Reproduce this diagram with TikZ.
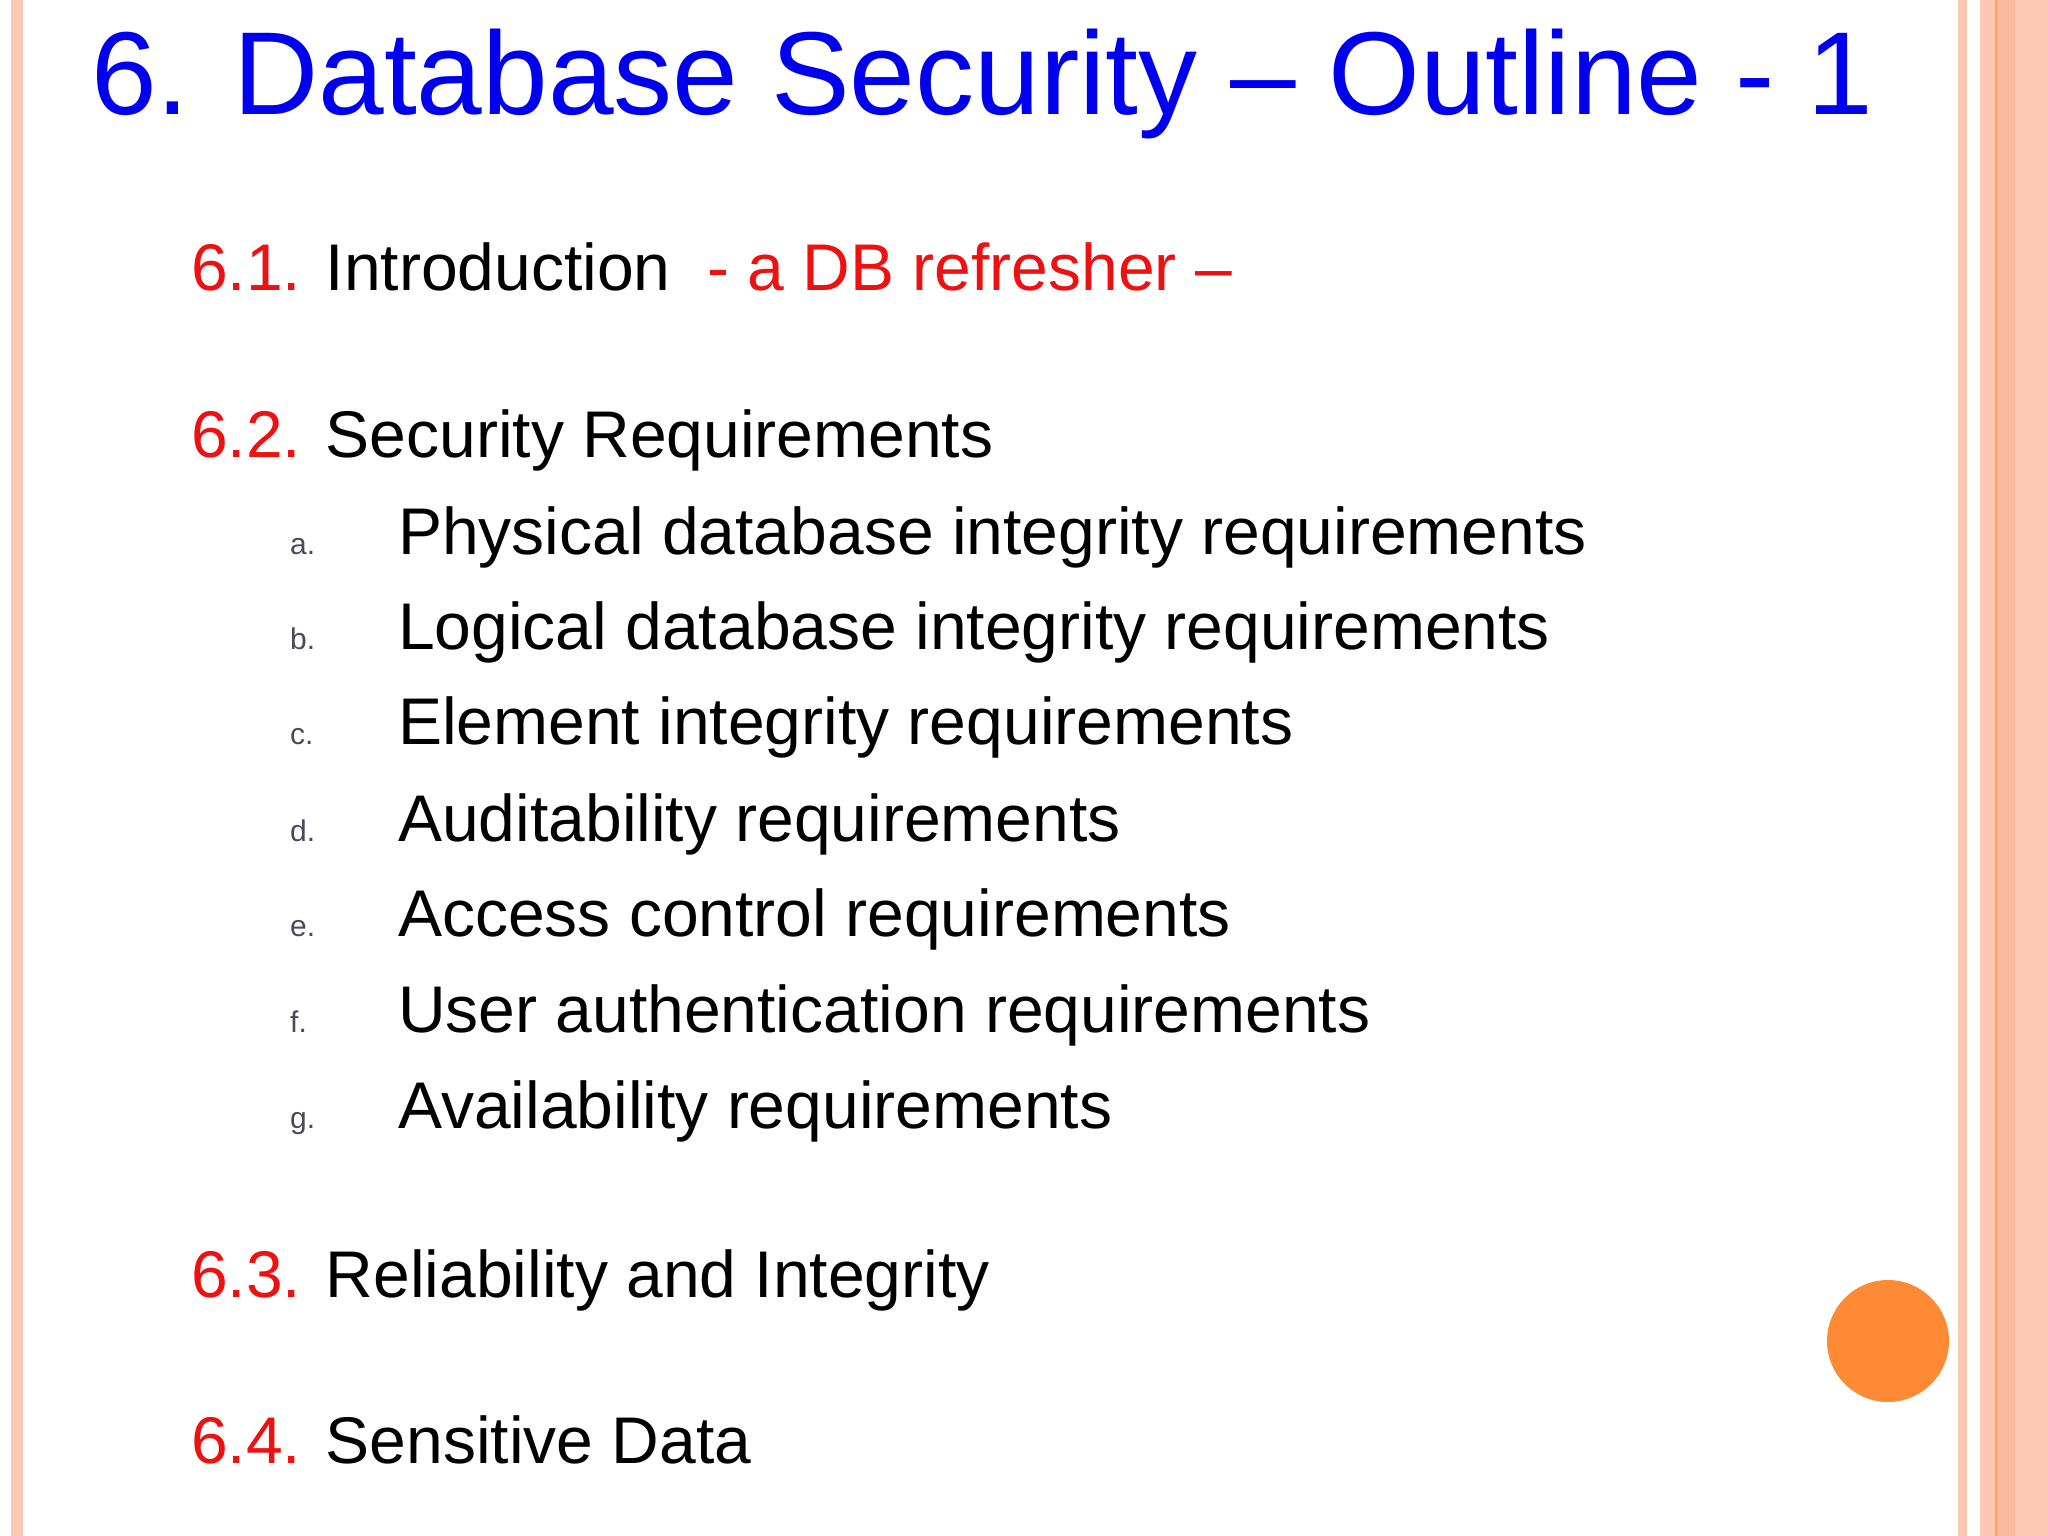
\documentclass[tikz,border=0pt]{standalone}
\usepackage{fontspec}
\setmainfont{Liberation Sans}
\definecolor{salmon}{HTML}{FCC8B4}
\definecolor{salmond}{HTML}{F9B99F}
\definecolor{orng}{HTML}{FF8A36}
\definecolor{ttl}{HTML}{0000EE}
\definecolor{rd}{HTML}{EE1111}
\definecolor{gr}{HTML}{4A4A5A}
\begin{document}
\begin{tikzpicture}[x=1pt,y=-1pt,
  main/.style={anchor=base west,inner sep=0,font=\fontsize{66}{70}\selectfont},
  lbl/.style={anchor=base west,inner sep=0,text=gr,font=\fontsize{30}{34}\selectfont}]
\fill[white] (0,0) rectangle (2048,1536);
\useasboundingbox (0,0) rectangle (2048,1536);
\fill[salmon] (11,0) rectangle (23,1536);
\fill[salmon] (1958,0) rectangle (1967,1536);
\fill[salmon] (1980,0) rectangle (2048,1536);
\fill[salmond] (1996,0) rectangle (2015,1536);
\fill[orng!80] (1995,0) rectangle (1997,1536);
\fill[orng] (1888,1341) circle (61);
\node[anchor=base west,inner sep=0,text=ttl,font=\fontsize{118}{120}\selectfont] (t) at (91,115) {6. Database Security -- Outline - 1};
\node[main] (s1) at (191,290) {\textcolor{rd}{6.1.} Introduction \ \textcolor{rd}{- a DB refresher --}};
\node[main] (s2) at (191,457) {\textcolor{rd}{6.2.} Security Requirements};
\foreach \l/\t/\y in {a/Physical database integrity requirements/554,b/Logical database integrity requirements/649,c/Element integrity requirements/744,d/Auditability requirements/841,e/Access control requirements/936,f/User authentication requirements/1032,g/Availability requirements/1128}{
  \node[lbl] (l\l) at (290,\y) {\l.};
  \node[main] (i\l) at (398,\y) {\t};
}
\node[main] (s3) at (191,1297) {\textcolor{rd}{6.3.} Reliability and Integrity};
\node[main] (s4) at (191,1463) {\textcolor{rd}{6.4.} Sensitive Data};
\end{tikzpicture}
\end{document}
